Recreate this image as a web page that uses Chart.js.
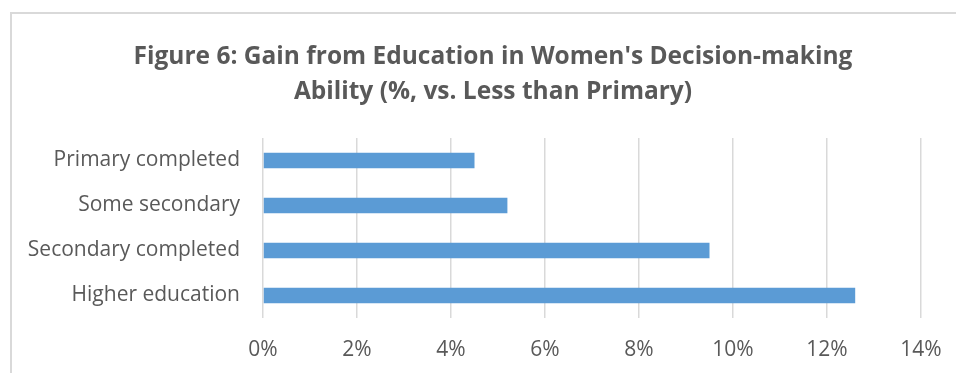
<!DOCTYPE html>
<html>
<head>
<meta charset="utf-8">
<script src="https://cdn.jsdelivr.net/npm/chart.js@4"></script>
<style>
  html, body { margin: 0; background: #fff; overflow: hidden; }
  #frame { position: absolute; left: 10px; top: 12px; width: 960px; height: 380px; border: 2px solid #d9d9d9; }
  #wrap { position: absolute; left: 0; top: 0; width: 956px; height: 373px; }
</style>
</head>
<body>
<div id="frame"></div>
<div id="wrap"><canvas id="barChart"></canvas></div>
<script>
// values (percent gain vs. less than primary)
const categories = ["Primary completed", "Some secondary", "Secondary completed", "Higher education"];
const gainValues = [4.5, 5.2, 9.5, 12.6];
const titleLines = ["Figure 6: Gain from Education in Women's Decision-making", "Ability (%, vs. Less than Primary)"];

const textColor = "#595959";
const canvas = document.getElementById("barChart");
const ctx = canvas.getContext("2d");

// the built-in title centres over the padded box, so draw it ourselves
const titlePlugin = {
  id: "figTitle",
  afterDraw(chart) {
    const c = chart.ctx;
    c.save();
    c.fillStyle = textColor;
    c.font = "bold 24.5px 'Open Sans'";
    c.textAlign = "center";
    c.textBaseline = "middle";
    titleLines.forEach((line, i) => c.fillText(line, 493, 57 + i * 35));
    c.restore();
  },
};

canvas.chart = new Chart(ctx, {
  type: "bar",
  data: {
    labels: categories,
    datasets: [
      {
        data: gainValues,
        backgroundColor: "#5b9bd5",
        categoryPercentage: 0.5,
        barPercentage: 0.68,
      },
    ],
  },
  options: {
    indexAxis: "y",
    responsive: true,
    maintainAspectRatio: false,
    animation: false,
    layout: { padding: { left: 0, right: 35, top: 138, bottom: 10 } },
    plugins: {
      legend: { display: false },
      tooltip: { enabled: false },
      title: { display: false },
    },
    scales: {
      x: {
        min: 0,
        max: 14,
        ticks: {
          stepSize: 2,
          color: textColor,
          font: { family: "'Open Sans'", size: 21 },
          padding: 19,
          callback: (v) => v + "%",
        },
        grid: { color: "#d9d9d9", lineWidth: 1.5, drawTicks: false },
        border: { display: false },
        afterFit: (scale) => {
          scale.height = 45;
          scale.paddingLeft = 0;
          scale.paddingRight = 0;
        },
      },
      y: {
        ticks: {
          color: textColor,
          font: { family: "'Open Sans'", size: 21 },
          padding: 23,
        },
        grid: { display: false, drawTicks: false },
        border: { display: false },
        afterFit: (scale) => { scale.width = 263; },
      },
    },
  },
  plugins: [titlePlugin],
});
</script>
</body>
</html>
